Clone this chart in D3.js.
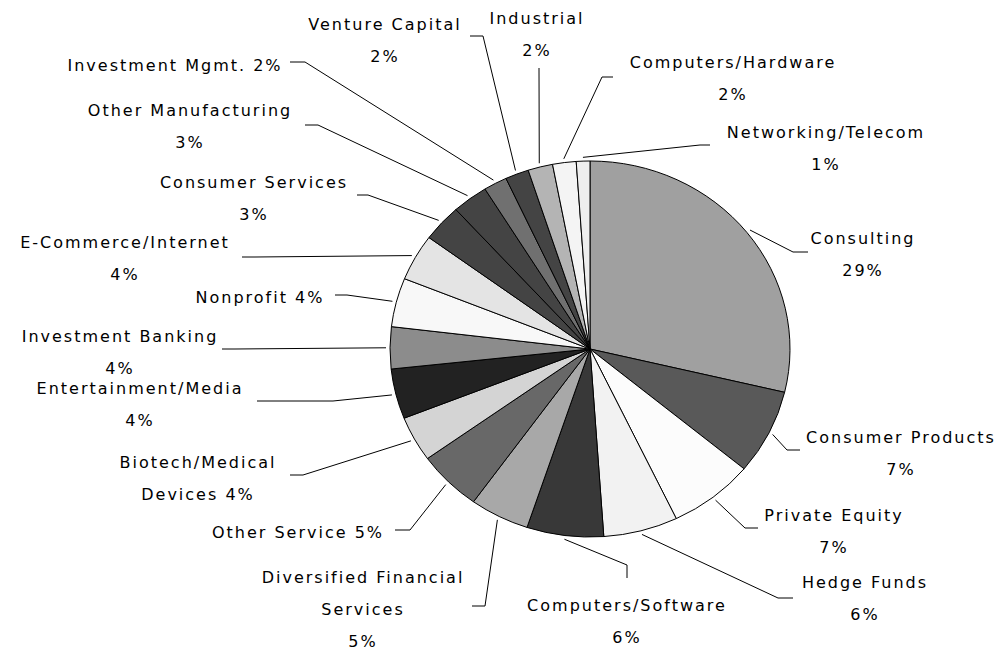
<!DOCTYPE html>
<html>
<head>
<meta charset="utf-8">
<script src="https://cdn.jsdelivr.net/npm/d3@7"></script>
<style>
  body { margin: 0; background: #fff; }
  .chart text { font-family: "DejaVu Sans", sans-serif; font-size: 16px; letter-spacing: 2px; fill: #000; }
</style>
</head>
<body>
<div class="chart"></div>
<script>
// slices, clockwise from 12 o'clock
var categories = ['Consulting', 'Consumer Products', 'Private Equity', 'Hedge Funds',
  'Computers/Software', 'Diversified Financial\nServices', 'Other Service', 'Biotech/Medical\nDevices',
  'Entertainment/Media', 'Investment Banking', 'Nonprofit', 'E-Commerce/Internet',
  'Consumer Services', 'Other Manufacturing', 'Investment Mgmt.', 'Venture Capital',
  'Industrial', 'Computers/Hardware', 'Networking/Telecom'];
var shares = [28.7, 7.3, 6.9, 6.0, 6.2, 4.8, 5.2, 3.9, 4.3, 3.6, 4.2, 4.0, 3.2, 2.9, 1.9, 1.9, 2.0, 1.9, 1.1];
var fills = ['#a0a0a0', '#595959', '#fcfcfc', '#f2f2f2', '#383838', '#a8a8a8', '#686868', '#d4d4d4',
  '#222222', '#8c8c8c', '#f8f8f8', '#e4e4e4', '#444444', '#444444', '#707070', '#444444',
  '#b4b4b4', '#f4f4f4', '#eeeeee'];

// label placement: text centre x, first line y, how the % joins ('nl' new line, 'sp' same line), leader hook
var labelLayout = [
  {x: 863, y: 238, join: 'nl', hook: [[808, 252], [793, 252]]},
  {x: 901, y: 437, join: 'nl', hook: [[800, 450], [787, 450]]},
  {x: 834, y: 515, join: 'nl', hook: [[758, 528], [745, 528]]},
  {x: 865, y: 582, join: 'nl', hook: [[793, 598], [778, 598]]},
  {x: 627, y: 605, join: 'nl', hook: [[627, 578], [627, 565]]},
  {x: 363, y: 577, join: 'nl', hook: [[472, 606], [485, 606]]},
  {x: 298, y: 532, join: 'sp', hook: [[395, 530], [410, 530]]},
  {x: 198, y: 462, join: 'sp', hook: [[290, 475], [303, 475]]},
  {x: 140, y: 388, join: 'nl', hook: [[257, 401], [333, 401]]},
  {x: 120, y: 336, join: 'nl', hook: [[222, 349], [235, 349]]},
  {x: 260, y: 297, join: 'sp', hook: [[335, 295], [347, 295]]},
  {x: 125, y: 242, join: 'nl', hook: [[242, 257], [255, 257]]},
  {x: 254, y: 182, join: 'nl', hook: [[357, 195], [368, 195]]},
  {x: 190, y: 110, join: 'nl', hook: [[305, 125], [318, 125]]},
  {x: 175, y: 65,  join: 'sp', hook: [[290, 62], [305, 62]]},
  {x: 385, y: 24,  join: 'nl', hook: [[470, 36], [483, 36]]},
  {x: 537, y: 18,  join: 'nl', hook: [[539, 68], [539, 70]]},
  {x: 733, y: 62,  join: 'nl', hook: [[613, 77], [602, 77]]},
  {x: 826, y: 132, join: 'nl', hook: [[710, 145], [700, 145]]}
];

var width = 999, height = 652;
var cx = 590, cy = 349, radius = 200, squash = 0.94, lineGap = 32;

var svg = d3.select('.chart').append('svg')
  .attr('width', width).attr('height', height);

var data = categories.map(function(c, i) { return {name: c, value: shares[i], fill: fills[i], layout: labelLayout[i]}; });

var pie = d3.pie().sort(null).value(function(d) { return d.value; });
var arc = d3.arc().innerRadius(0).outerRadius(radius);
var slices = pie(data);

// leader lines
var line = d3.line();
svg.append('g').selectAll('path')
  .data(slices)
  .enter()
  .append('path')
  .attr('d', function(s) {
    var a = (s.startAngle + s.endAngle) / 2;
    var end = [cx + radius * 1.02 * Math.sin(a), cy - radius * squash * 1.02 * Math.cos(a)];
    var h = s.data.layout.hook;
    return line([h[0], h[1], end]);
  })
  .attr('fill', 'none')
  .attr('stroke', '#000')
  .attr('stroke-width', 1);

// wedges
svg.append('g')
  .attr('transform', 'translate(' + cx + ',' + cy + ') scale(1,' + squash + ')')
  .selectAll('path')
  .data(slices)
  .enter()
  .append('path')
  .attr('d', arc)
  .attr('fill', function(s) { return s.data.fill; })
  .attr('stroke', '#000')
  .attr('stroke-width', 1)
  .attr('vector-effect', 'non-scaling-stroke');

// labels
svg.append('g').selectAll('text')
  .data(slices)
  .enter()
  .append('text')
  .attr('text-anchor', 'middle')
  .each(function(s) {
    var pct = Math.round(s.data.value) + '%';
    var L = s.data.layout;
    var txt = s.data.name + (L.join === 'nl' ? '\n' : ' ') + pct;
    var t = d3.select(this);
    txt.split('\n').forEach(function(part, k) {
      t.append('tspan')
        .attr('x', L.x)
        .attr('y', L.y + k * lineGap + 6)
        .text(part);
    });
  });
</script>
</body>
</html>
